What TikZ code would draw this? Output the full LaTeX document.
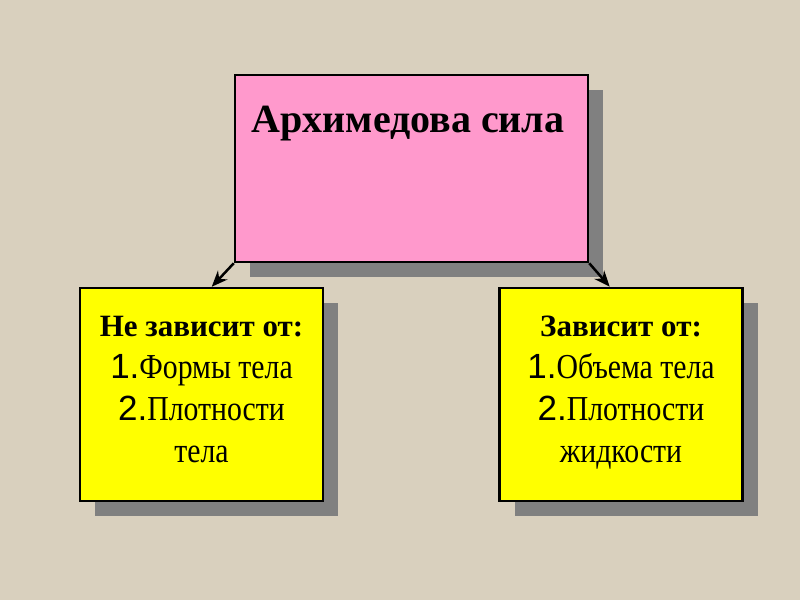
\documentclass[tikz,border=0pt]{standalone}
\usepackage{fontspec}
\setmainfont{Liberation Serif}
\newfontfamily\numfont{Liberation Sans}
\newfontfamily\narrowfont[FakeStretch=0.85]{Liberation Serif}
\usetikzlibrary{calc,shadows,arrows.meta}
\definecolor{bgbeige}{RGB}{217,208,190}
\definecolor{boxpink}{RGB}{255,153,204}
\definecolor{boxyellow}{RGB}{255,255,0}
\definecolor{shadowgray}{RGB}{128,128,128}
\tikzset{
  card/.style={rectangle,draw=black,line width=2.5pt,
    drop shadow={shadow xshift=15pt,shadow yshift=-15pt,fill=shadowgray,opacity=1}},
  conn/.style={line width=2.5pt,-{Stealth[length=16pt,width=13pt]}},
}

\begin{document}
\begin{tikzpicture}[x=1pt,y=1pt]
      \fill[bgbeige] (0,0) rectangle (800,600);
      \node (arch) [card,fill=boxpink,minimum width=353pt,minimum height=187pt] at (411.5,431.5) {};
      \node (archtitle) [anchor=base,font=\bfseries\fontsize{40}{40}\selectfont] at (408,467) {Архимедова сила};
      \foreach \n/\x/\head/\one/\two/\three in {notdep/201.5/Не зависит от:/Формы тела/Плотности/тела,
                                                dep/621/Зависит от:/Объема тела/Плотности/жидкости}{
        \node (\n) [card,fill=boxyellow,minimum width=243pt,minimum height=213pt] at (\x,205.5) {};
        \node (\n-text) [anchor=base,align=center,font=\fontsize{35}{42}\selectfont] at (\x,138)
          {{\bfseries\fontsize{31}{42}\selectfont\head}\\{\numfont 1.}{\narrowfont\one}\\{\numfont 2.}{\narrowfont\two}\\{\narrowfont\three}};
      }
      \draw [conn] (arch.south west) to ($ (notdep.north west)+(133,0) $);
      \draw [conn] (arch.south east) to ($ (dep.north east)+(-134,0) $);
\end{tikzpicture}
\end{document}
